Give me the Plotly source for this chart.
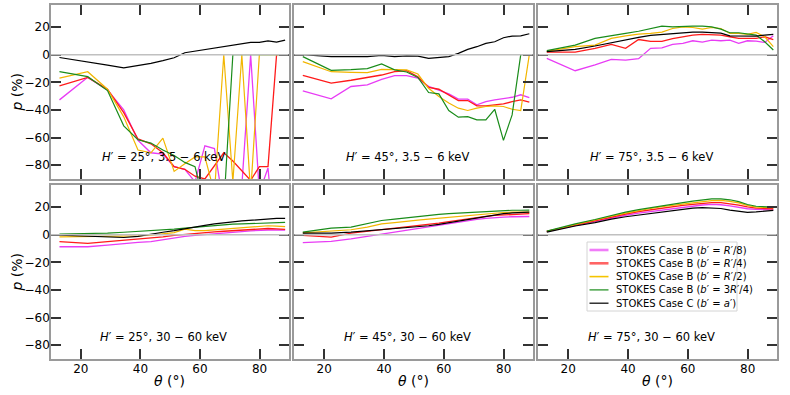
import plotly.graph_objects as go
from plotly.subplots import make_subplots

# polar-angle bin centres (deg)
theta = [12.84, 22.33, 28.96, 34.41, 39.19, 43.53, 47.55, 51.32, 54.90, 58.33,
         61.64, 64.85, 67.98, 71.03, 74.04, 77.00, 79.92, 82.82, 85.70, 88.57]

series_names = [
    "STOKES Case B (<i>b</i>′ = <i>R</i>′/8)",
    "STOKES Case B (<i>b</i>′ = <i>R</i>′/4)",
    "STOKES Case B (<i>b</i>′ = <i>R</i>′/2)",
    "STOKES Case B (<i>b</i>′ = 3<i>R</i>′/4)",
    "STOKES Case C (<i>b</i>′ = <i>a</i>′)",
]
series_colors = ["#e83cf5", "#ff1a1a", "#f2b600", "#1a8c1a", "#000000"]
legend_colors = ["#f07cf8", "#ff6464", "#f5c400", "#1a8c1a", "#111111"]

panel_labels = [
    "<i>H</i>′ = 25°, 3.5 − 6 keV", "<i>H</i>′ = 45°, 3.5 − 6 keV", "<i>H</i>′ = 75°, 3.5 − 6 keV",
    "<i>H</i>′ = 25°, 30 − 60 keV", "<i>H</i>′ = 45°, 30 − 60 keV", "<i>H</i>′ = 75°, 30 − 60 keV",
]

# ---- H'=25, 3.5-6 keV
p25s_b8 = [-32.7, -16.4, -25.5, -40, -62, -71, -72, -81, -83, -92, -66, -68, -110, -110, -95, 0, -100, -82, -150, -150]
p25s_b4 = [-22.6, -16.4, -25, -42, -61, -64.5, -71, -81, -83, -88, -90, -80, -71, -77, -84, -91, -81, -81, 0, 0]
p25s_b2 = [-17, -12.3, -25, -45, -69, -71, -60.4, -84.5, -79, -74, -74, -100, 0, -92, 0, -100, 0, 0, 0, 0]
p25s_b34 = [-12.3, -15.9, -26, -51.5, -61.6, -64, -69, -73, -78, -81, -110, -110, -110, 0, 0, 0, 0, 0, 0, 0]
p25s_c = [-2, -5, -7.5, -9.5, -8, -6.3, -4.3, -2.2, 1.4, 2.6, 3.9, 5, 6, 7, 8, 8.9, 8.9, 10, 9.1, 10.6]

# ---- H'=45, 3.5-6 keV
p45s_b8 = [-26.2, -32, -23, -21.9, -17.8, -15.2, -15.2, -17, -23, -25.5, -28.4, -32.2, -32.2, -36.3, -34, -32.7, -31.5, -30.8, -29, -31]
p45s_b4 = [-15, -20.5, -18.5, -16.6, -14.7, -12.3, -11.6, -15.9, -23.6, -25, -29, -33.2, -33.2, -37, -37, -36.3, -35.6, -34, -32.7, -34.4]
p45s_b2 = [-5, -12.3, -12.8, -13, -10.6, -10.6, -11, -14, -24.3, -30.3, -35, -38.7, -40.4, -38.7, -37.5, -37, -37.5, -39.5, -40.4, 0]
p45s_b34 = [-1.4, -11.3, -10.8, -10.1, -6.7, -11, -12.5, -16.4, -27.4, -28.4, -40.4, -45.2, -44.8, -47.2, -47.2, -39.5, -62, -43.6, 0, 0]
p45s_c = [0, -1.4, -1.4, -1.4, -0.5, -1.4, -0.9, -1.0, -2.6, -2.0, -1.4, 1, 3.9, 5.8, 8.2, 9.4, 12.3, 13.5, 13.7, 15.2]

# ---- H'=75, 3.5-6 keV
p75s_b8 = [-2.6, -11.6, -7.4, -3.4, -3.9, -2.9, 4.6, 5, 7.5, 8.2, 10.1, 9.1, 10.6, 10.1, 10.6, 8.2, 10.1, 9.9, 8.9, 13.7]
p75s_b4 = [1.9, 1.9, 4.6, 7.5, 4.6, 11, 9.6, 9.6, 11.6, 13, 14.2, 14.7, 14.7, 14.2, 13, 11.8, 11.8, 11.8, 13, 11]
p75s_b2 = [2.4, 5.8, 7, 11.8, 13.7, 14.9, 15.4, 16.4, 19, 20.2, 19.7, 18.5, 19.7, 19, 15.4, 15.4, 14.7, 16.1, 13, 5.8]
p75s_b34 = [2.9, 7, 11.8, 13.5, 15.4, 17, 18.8, 20.7, 20.2, 20.7, 20.7, 20.7, 20.2, 18.5, 15.9, 15.9, 15.2, 14.2, 9.4, 3.4]
p75s_c = [2.2, 3.9, 6.3, 8.7, 11, 12.5, 14, 14.7, 15.4, 15.9, 16.4, 16.4, 16.1, 15.6, 13.7, 13.7, 13.7, 13.5, 14.2, 14.7]

# ---- H'=25, 30-60 keV
p25h_b8 = [-8.7, -8.7, -7.5, -6.3, -5.5, -5, -3.5, -2, -1.2, -0.5, 0.2, 0.8, 1.3, 1.8, 2.3, 2.8, 3.2, 3.4, 3.4, 3.4]
p25h_b4 = [-5, -6.2, -5, -4, -3.2, -2.5, -1.5, -0.5, 0.3, 0.8, 1.3, 2, 2.5, 2.9, 3.2, 3.5, 4, 4.5, 4.2, 3.9]
p25h_b2 = [-1.5, -1.2, -1.2, -1.2, -0.8, -0.3, 0.5, 1.5, 4, 3, 3, 3.5, 4.2, 4.8, 5.2, 5.8, 6.2, 6.5, 6.2, 5.8]
p25h_b34 = [0.5, 0.8, 1.2, 1.8, 2.3, 2.8, 3.3, 4, 4.8, 5.5, 6, 6.8, 7.3, 7.6, 7.8, 8.1, 8.3, 8.6, 8.8, 8.9]
p25h_c = [-0.3, -1, -1.5, -2, -1.2, 0.5, 1.8, 3, 4.5, 5.5, 6.8, 7.8, 8.8, 9.3, 10, 10.5, 11, 11.8, 11.8, 11.8]

# ---- H'=45, 30-60 keV
p45h_b8 = [-5.8, -4.8, -3, -1.2, 0.7, 2.2, 3.6, 4.6, 5.7, 6.7, 7.9, 9.1, 10.3, 11.1, 11.8, 12.4, 12.8, 13, 13.1, 13.2]
p45h_b4 = [-0.5, -1.7, 1.2, 2.5, 3.6, 4.5, 5.5, 6.5, 7.4, 8.4, 9.5, 10.6, 11.6, 12.5, 13.3, 14, 14.4, 14.8, 15, 15.2]
p45h_b2 = [1.4, 2.6, 3.6, 5.5, 7.9, 8.8, 9.9, 10.6, 11.3, 12, 12.7, 13.3, 14, 14.6, 15.1, 15.6, 16.1, 16.3, 16.4, 16.4]
p45h_b34 = [1.9, 4.8, 5.5, 8, 10.3, 11.3, 12.3, 13, 13.8, 14.7, 15.2, 15.6, 16, 16.5, 17, 17.3, 17.6, 17.7, 17.7, 17.8]
p45h_c = [1.2, 1.2, 1.9, 2.8, 3.6, 4.2, 4.8, 5.5, 6.5, 7.5, 8.7, 9.8, 10.8, 11.9, 13, 14.1, 15.2, 15.8, 16.2, 16.4]

# ---- H'=75, 30-60 keV
p75h_b8 = [2.4, 6.7, 9.5, 12.2, 14.1, 15.7, 16.8, 18, 19, 19.9, 20.8, 21.5, 21.9, 21.7, 20.9, 19.8, 18.8, 18.4, 18.2, 18]
p75h_b4 = [2.5, 7.2, 10.2, 13, 15, 16.8, 18.1, 19.3, 20.3, 21.2, 22, 22.8, 23.3, 23.3, 22.6, 21.5, 20.2, 19.3, 19, 18.8]
p75h_b2 = [2.5, 7.5, 10.5, 13.4, 15.6, 17.5, 19, 20.3, 21.3, 22.2, 23.2, 24, 24.7, 24.8, 24.2, 23, 21.2, 20, 19.8, 19.6]
p75h_b34 = [2.6, 7.9, 11, 14, 16.3, 18.2, 19.7, 21.1, 22.3, 23.2, 24.3, 25.2, 26, 26, 25.3, 24, 21.9, 20.6, 20.3, 20]
p75h_c = [1.9, 6.3, 8.7, 11.3, 13, 14.2, 15.2, 16.3, 17.3, 18.2, 19.3, 19.6, 19.5, 19, 17.8, 16.8, 16.2, 16.5, 17, 17.6]

panels = [
    [p25s_b8, p25s_b4, p25s_b2, p25s_b34, p25s_c],
    [p45s_b8, p45s_b4, p45s_b2, p45s_b34, p45s_c],
    [p75s_b8, p75s_b4, p75s_b2, p75s_b34, p75s_c],
    [p25h_b8, p25h_b4, p25h_b2, p25h_b34, p25h_c],
    [p45h_b8, p45h_b4, p45h_b2, p45h_b34, p45h_c],
    [p75h_b8, p75h_b4, p75h_b2, p75h_b34, p75h_c],
]

W, H = 790, 395
col_px = [(51, 288.5), (294.3, 532.7), (538.3, 776.7)]
row_px = [(5, 179), (185, 359)]

fig = make_subplots(rows=2, cols=3)
FONT = "DejaVu Sans"
widths = [1.3, 1.3, 1.2, 1.2, 1.2]
legend_widths = [2.6, 2.6, 1.6, 1.2, 1.3]

for k, data in enumerate(panels):
    r, c = divmod(k, 3)
    for j, ys in enumerate(data):
        fig.add_trace(go.Scatter(
            x=theta, y=ys, mode="lines", name=series_names[j],
            line=dict(color=series_colors[j], width=widths[j]),
            legendgroup=str(j), showlegend=False,
        ), row=r + 1, col=c + 1)

axis_common = dict(
    showline=True, linecolor="#9a9a9a", linewidth=1.5, mirror="ticks",
    ticks="inside", ticklen=10, tickwidth=1.5, tickcolor="#333333",
    showgrid=False, zeroline=False,
    tickfont=dict(family=FONT, size=12, color="black"),
)

for k in range(6):
    r, c = divmod(k, 3)
    idx = k + 1
    xa = "xaxis" if idx == 1 else f"xaxis{idx}"
    ya = "yaxis" if idx == 1 else f"yaxis{idx}"
    x0, x1 = col_px[c]
    y0, y1 = row_px[r]
    fig.layout[xa].update(
        domain=[x0 / W, x1 / W], range=[10, 89.7], tick0=0, dtick=20,
        showticklabels=(r == 1), ticklabelstandoff=-2, **axis_common)
    fig.layout[ya].update(
        domain=[1 - y1 / H, 1 - y0 / H], range=[-90, 36], tick0=0, dtick=20,
        showticklabels=(c == 0), ticklabelstandoff=-3, **axis_common)
    xr = "x" if idx == 1 else f"x{idx}"
    yr = "y" if idx == 1 else f"y{idx}"
    fig.add_shape(type="line", xref=f"{xr} domain", yref=yr, x0=0, x1=1, y0=0, y1=0,
                  line=dict(color="#c0c0c0", width=1.5), layer="above")
    # panel label
    cx = ((x0 + x1) / 2 - 6) / W
    cy = 1 - (y0 + 152) / H
    fig.add_annotation(x=cx, y=cy, xref="paper", yref="paper", text=panel_labels[k],
                       showarrow=False, xanchor="center", yanchor="middle",
                       font=dict(family=FONT, size=11.5, color="black"))

# axis titles
for r in range(2):
    y0, y1 = row_px[r]
    fig.add_annotation(x=16.5 / W, y=1 - (y0 + y1) / 2 / H, xref="paper", yref="paper",
                       text="<i>p</i> (%)", textangle=-90, showarrow=False,
                       xanchor="center", yanchor="middle",
                       font=dict(family=FONT, size=14, color="black"))
for c in range(3):
    x0, x1 = col_px[c]
    fig.add_annotation(x=(x0 + x1) / 2 / W, y=1 - 381 / H, xref="paper", yref="paper",
                       text="<i>θ</i> (°)", showarrow=False,
                       xanchor="center", yanchor="middle",
                       font=dict(family=FONT, size=14, color="black"))

# legend box (compact, matplotlib-like) in the lower-right panel
LB = dict(x0=587, x1=737, y0=242, y1=311)
fig.add_shape(type="rect", xref="paper", yref="paper",
              x0=LB["x0"] / W, x1=LB["x1"] / W, y0=1 - LB["y1"] / H, y1=1 - LB["y0"] / H,
              line=dict(color="#d4d4d4", width=1), fillcolor="white", layer="above")
for j, name in enumerate(series_names):
    yy = 1 - (250 + 13.3 * j) / H
    fig.add_shape(type="line", xref="paper", yref="paper",
                  x0=589.5 / W, x1=608.5 / W, y0=yy, y1=yy,
                  line=dict(color=legend_colors[j], width=legend_widths[j]), layer="above")
    fig.add_annotation(x=614 / W, y=yy, xref="paper", yref="paper", text=name,
                       showarrow=False, xanchor="left", yanchor="middle",
                       font=dict(family=FONT, size=10, color="black"))

fig.update_layout(
    width=W, height=H, margin=dict(l=0, r=0, t=0, b=0),
    paper_bgcolor="white", plot_bgcolor="white",
    font=dict(family=FONT, color="black"),
    showlegend=False,
)

fig.write_html("out.html", config={"displayModeBar": False},
               post_script="document.body.style.margin='0';")
